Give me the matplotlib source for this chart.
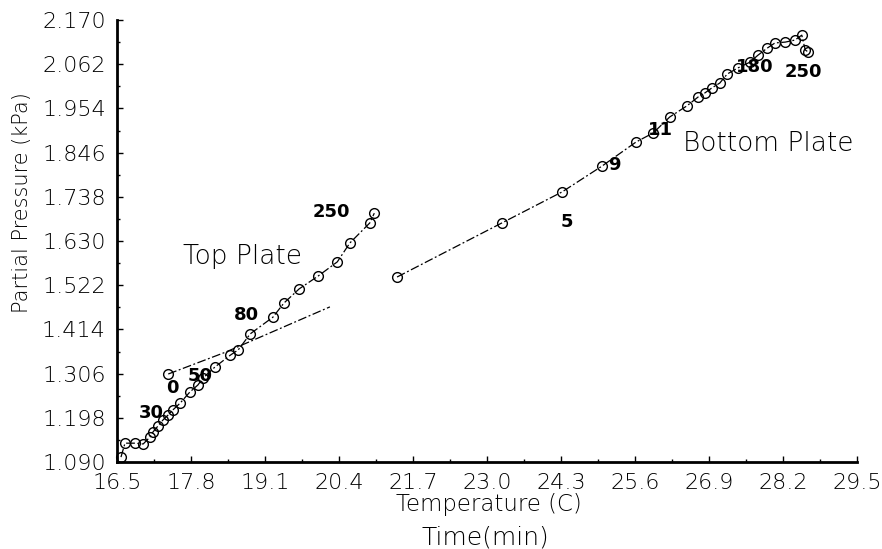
import matplotlib.pyplot as plt
import numpy as np

# top plate readings
top_temp = [16.57, 16.64, 16.82, 16.96, 17.08, 17.13, 17.22, 17.31, 17.40, 17.48,
            17.61, 17.78, 17.92, 18.01, 18.22, 18.49, 18.63, 18.84, 19.24, 19.43,
            19.70, 20.03, 20.37, 20.59, 20.94, 21.02]
top_press = [1.102, 1.136, 1.136, 1.134, 1.151, 1.163, 1.178, 1.193, 1.205, 1.217,
             1.234, 1.261, 1.278, 1.295, 1.322, 1.351, 1.364, 1.403, 1.444, 1.478,
             1.513, 1.544, 1.579, 1.625, 1.674, 1.698]

# straight line from the 0 min point
fit_temp = [17.40, 18.40, 20.24]
fit_press = [1.305, 1.358, 1.469]

# bottom plate readings
bot_temp = [21.42, 23.26, 24.32, 25.02, 25.62, 25.92, 26.21, 26.51, 26.71, 26.83,
            26.95, 27.09, 27.22, 27.41, 27.62, 27.76, 27.92, 28.06, 28.24, 28.41,
            28.53, 28.59, 28.64]
bot_press = [1.542, 1.674, 1.750, 1.813, 1.872, 1.894, 1.933, 1.960, 1.982, 1.992,
             2.004, 2.016, 2.038, 2.053, 2.067, 2.084, 2.101, 2.114, 2.116, 2.121,
             2.133, 2.097, 2.092]

# handwritten time marks (min)
marks = ["30", "0", "50", "80", "250", "5", "9", "11", "180", "250"]
mark_x = [17.11, 17.47, 17.96, 18.77, 20.26, 24.40, 25.24, 26.04, 27.71, 28.55]
mark_y = [1.209, 1.270, 1.300, 1.448, 1.700, 1.676, 1.816, 1.902, 2.054, 2.044]

xticks = np.arange(16.5, 29.51, 1.3)
yticks = [1.090, 1.198, 1.306, 1.414, 1.522, 1.630, 1.738, 1.846, 1.954, 2.062, 2.170]

fig = plt.figure(figsize=(8.82, 5.49), dpi=100)
ax = fig.add_axes([117/882, 1-462/549, 740/882, 442/549])

dash = (0, (7, 2, 1.5, 2))
ax.plot(top_temp, top_press, color='black', lw=0.9, linestyle=dash,
        marker='o', mfc='none', mec='black', ms=7, mew=1, clip_on=False)
ax.plot(fit_temp, fit_press, color='black', lw=0.9, linestyle=dash,
        marker='o', markevery=[0], mfc='none', mec='black', ms=7, mew=1)
ax.plot(bot_temp, bot_press, color='black', lw=0.9, linestyle=dash,
        marker='o', mfc='none', mec='black', ms=7, mew=1, clip_on=False)

for s, x, y in zip(marks, mark_x, mark_y):
    ax.text(x, y, s, fontsize=13, fontweight='bold', ha='center', va='center')

ax.text(18.71, 1.593, "Top Plate", fontsize=19, fontweight='light', ha='center', va='center')
ax.text(27.94, 1.869, "Bottom Plate", fontsize=19, fontweight='light', ha='center', va='center')

ax.set_xlim(16.5, 29.5)
ax.set_ylim(1.090, 2.170)
ax.set_xticks(xticks)
ax.set_xticklabels([f"{t:.1f}" for t in xticks])
ax.set_yticks(yticks)
ax.set_yticklabels([f"{t:.3f}" for t in yticks])
ax.set_xticks(xticks[:-1] + 0.65, minor=True)
ax.set_yticks(np.array(yticks[:-1]) + 0.054, minor=True)
ax.tick_params(which='major', direction='in', length=4, width=1, labelsize=16, pad=8)
ax.tick_params(which='minor', direction='in', length=2, width=1)
for lab in ax.get_xticklabels() + ax.get_yticklabels():
    lab.set_fontweight('light')

ax.spines['top'].set_visible(False)
ax.spines['right'].set_visible(False)
ax.spines['left'].set_linewidth(2)
ax.spines['bottom'].set_linewidth(2)

fig.text(22/882, 1-203/549, "Partial Pressure (kPa)", rotation=90, fontsize=15,
         fontweight='light', ha='center', va='center')
fig.text(489/882, 1-505/549, "Temperature (C)", fontsize=16.5, fontweight='light',
         ha='center', va='center')
fig.text(485/882, 1-537/549, "Time(min)", fontsize=18, fontweight='light',
         ha='center', va='center')

fig.savefig("out.png", dpi=100)
